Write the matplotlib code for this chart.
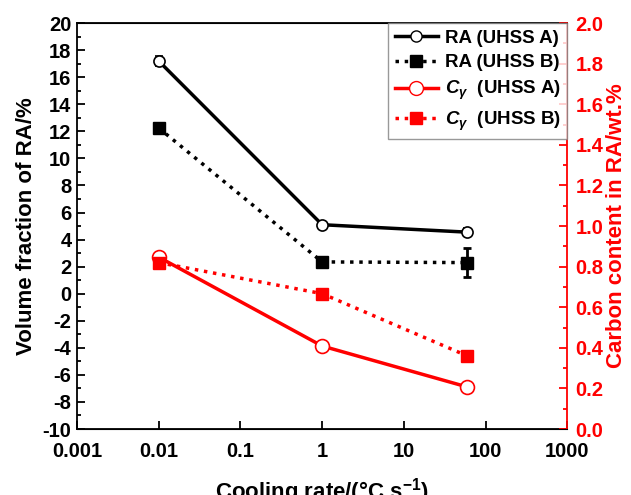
import matplotlib
matplotlib.use('Agg')
import matplotlib.pyplot as plt
from matplotlib.ticker import MultipleLocator, FixedLocator, FixedFormatter, FormatStrFormatter
from matplotlib.lines import Line2D

plt.rcParams['font.family'] = 'Liberation Sans'
plt.rcParams['font.weight'] = 'bold'
plt.rcParams['axes.unicode_minus'] = False
plt.rcParams['mathtext.fontset'] = 'custom'
plt.rcParams['mathtext.rm'] = 'Liberation Sans:bold'
plt.rcParams['mathtext.it'] = 'Liberation Sans:italic:bold'

# cooling rates (C/s)
rates = [0.01, 1, 60]

# retained austenite volume fraction (%)
ra_a = [17.2, 5.1, 4.55]
ra_a_err = [0.35, 0.3, 0.3]
ra_b = [12.25, 2.35, 2.3]
ra_b_err = [0.35, 0.35, 1.1]

# carbon content in RA (wt.%)
c_a = [0.847, 0.409, 0.207]
c_b = [0.82, 0.667, 0.36]

labels = ['RA (UHSS A)', 'RA (UHSS B)', r'$C_\gamma$  (UHSS A)', r'$C_\gamma$  (UHSS B)']
xticks = [0.001, 0.01, 0.1, 1, 10, 100, 1000]
xticklabels = ['0.001', '0.01', '0.1', '1', '10', '100', '1000']

fig = plt.figure(figsize=(6.31, 4.95), dpi=100)
ax = fig.add_axes([0.122, 0.1333, 0.777, 0.82])
ax2 = ax.twinx()

lw = 2.5
# left axis: RA
ax.errorbar(rates, ra_a, yerr=ra_a_err, color='black', lw=lw, marker='o', ms=8,
            mfc='white', mec='black', mew=1.2, capsize=3, elinewidth=2, capthick=2, zorder=3)
ax.errorbar(rates, ra_b, yerr=ra_b_err, color='black', lw=lw, ls=':', marker='s', ms=8,
            mfc='black', mec='black', capsize=3, elinewidth=2, capthick=2, zorder=3)

# right axis: carbon content
ax2.plot(rates, c_a, color='red', lw=lw, marker='o', ms=10, mfc='white', mec='red', mew=1.2)
ax2.plot(rates, c_b, color='red', lw=lw, ls=':', marker='s', ms=9, mfc='red', mec='red')

ax.set_xscale('log')
ax.set_xlim(0.001, 1000)
ax.xaxis.set_major_locator(FixedLocator(xticks))
ax.xaxis.set_major_formatter(FixedFormatter(xticklabels))
ax.xaxis.set_minor_locator(FixedLocator([]))
ax.set_ylim(-10, 20)
ax.yaxis.set_major_locator(MultipleLocator(2))
ax.yaxis.set_minor_locator(MultipleLocator(1))
ax2.set_ylim(0, 2.0)
ax2.yaxis.set_major_locator(MultipleLocator(0.2))
ax2.yaxis.set_minor_locator(MultipleLocator(0.1))
ax2.yaxis.set_major_formatter(FormatStrFormatter('%.1f'))

ax.tick_params(axis='both', which='both', direction='in', labelsize=14.5, width=1.3)
ax.tick_params(which='major', length=6)
ax.tick_params(which='minor', length=3)
ax.tick_params(axis='x', pad=9)
ax.tick_params(axis='y', pad=4)
ax2.tick_params(axis='y', which='both', direction='in', colors='red', labelsize=14.5, width=1.3, pad=6)
ax2.tick_params(which='major', length=6)
ax2.tick_params(which='minor', length=3)

for s in ['left', 'bottom', 'top']:
    ax.spines[s].set_linewidth(1.3)
ax2.spines['right'].set_color('red')
ax2.spines['right'].set_linewidth(1.3)
ax2.spines['left'].set_visible(False)
ax.spines['right'].set_visible(False)

ax.set_xlabel(r'Cooling rate/(°C s$^{-1}$)', fontsize=16, fontweight='bold', labelpad=11)
ax.set_ylabel('Volume fraction of RA/%', fontsize=16, fontweight='bold', labelpad=4)
ax2.set_ylabel('Carbon content in RA/wt.%', fontsize=16, fontweight='bold', color='red', labelpad=2)

handles = [
    Line2D([], [], color='black', lw=lw, marker='o', ms=8, mfc='white', mec='black'),
    Line2D([], [], color='black', lw=lw, ls=':', marker='s', ms=8, mfc='black', mec='black'),
    Line2D([], [], color='red', lw=lw, marker='o', ms=10, mfc='white', mec='red'),
    Line2D([], [], color='red', lw=lw, ls=':', marker='s', ms=9, mfc='red', mec='red'),
]
leg = ax2.legend(handles, labels, loc='upper right', bbox_to_anchor=(1.0, 1.0),
                 fontsize=13.5, frameon=True, fancybox=False, edgecolor='gray',
                 handlelength=2.3, borderaxespad=0, labelspacing=0.4, handletextpad=0.35,
                 borderpad=0.35)
leg.get_frame().set_linewidth(1.0)

fig.savefig('out.png', dpi=100)
